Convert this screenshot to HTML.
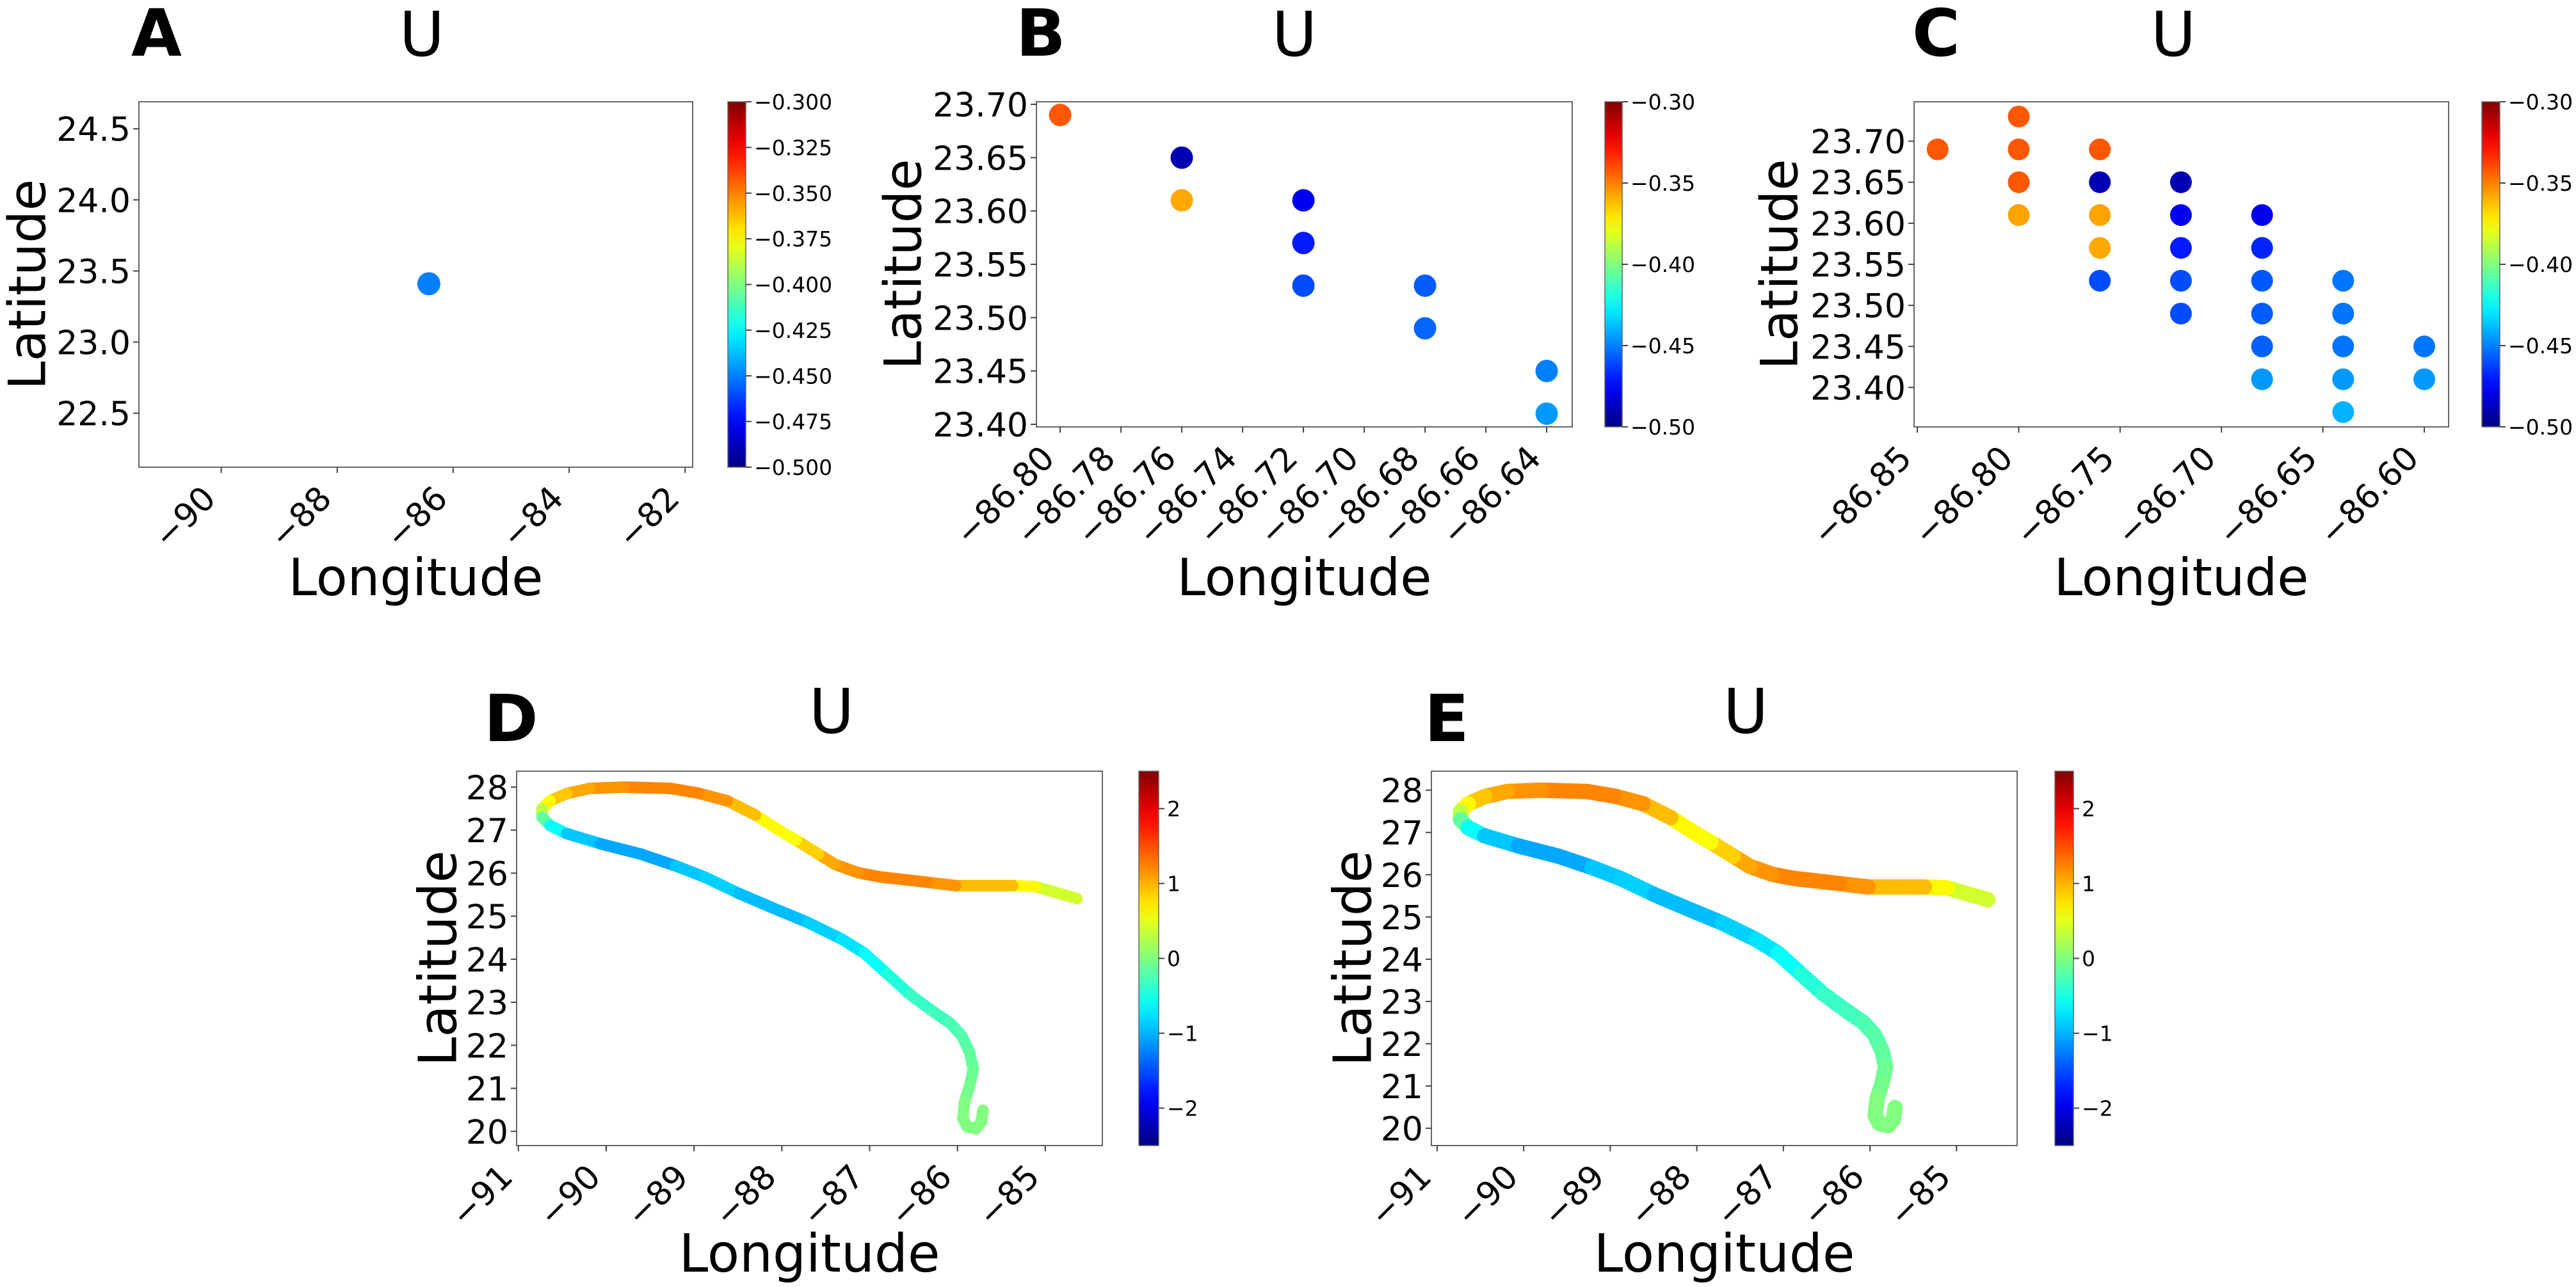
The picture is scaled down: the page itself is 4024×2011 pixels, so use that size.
<!DOCTYPE html>
<html><head><meta charset="utf-8"><style>
html,body{margin:0;padding:0;background:#fff}
svg{display:block;font-family:"DejaVu Sans","Liberation Sans",sans-serif}
</style></head><body>
<svg id="fig" width="4024" height="2011" viewBox="0 0 4024 2011" xmlns="http://www.w3.org/2000/svg">
<defs>
<linearGradient id="jetGrad" x1="0" y1="1" x2="0" y2="0"></linearGradient>
</defs>
</svg>
<script>
// ---- Panel A data ----
const aLon = [-86.42];
const aLat = [23.41];
const aVal = [-0.45];
const aXTicks = [-90,-88,-86,-84,-82];
const aYTicks = [22.5,23.0,23.5,24.0,24.5];
const aCbTicks = [-0.500,-0.475,-0.450,-0.425,-0.400,-0.375,-0.350,-0.325,-0.300];
// ---- Panel B data ----
const bLon = [-86.80,-86.76,-86.76,-86.72,-86.72,-86.72,-86.68,-86.68,-86.64,-86.64];
const bLat = [23.69,23.65,23.61,23.61,23.57,23.53,23.53,23.49,23.45,23.41];
const bVal = [-0.342,-0.49,-0.358,-0.478,-0.47,-0.46,-0.457,-0.455,-0.45,-0.445];
const bXTicks = [-86.80,-86.78,-86.76,-86.74,-86.72,-86.70,-86.68,-86.66,-86.64];
const bYTicks = [23.40,23.45,23.50,23.55,23.60,23.65,23.70];
const bcTicks = [-0.50,-0.45,-0.40,-0.35,-0.30];
// ---- Panel C data ----
const cLon = [-86.84,-86.80,-86.80,-86.80,-86.80,-86.76,-86.76,-86.76,-86.76,-86.76,-86.72,-86.72,-86.72,-86.72,-86.72,-86.68,-86.68,-86.68,-86.68,-86.68,-86.68,-86.64,-86.64,-86.64,-86.64,-86.64,-86.60,-86.60];
const cLat = [23.69,23.73,23.69,23.65,23.61,23.69,23.65,23.61,23.57,23.53,23.65,23.61,23.57,23.53,23.49,23.61,23.57,23.53,23.49,23.45,23.41,23.53,23.49,23.45,23.41,23.37,23.45,23.41];
const cVal = [-0.342,-0.342,-0.342,-0.342,-0.357,-0.342,-0.49,-0.357,-0.358,-0.46,-0.49,-0.478,-0.47,-0.46,-0.46,-0.478,-0.468,-0.458,-0.457,-0.456,-0.445,-0.452,-0.452,-0.452,-0.445,-0.44,-0.452,-0.445];
const cXTicks = [-86.85,-86.80,-86.75,-86.70,-86.65,-86.60];
const cYTicks = [23.40,23.45,23.50,23.55,23.60,23.65,23.70];
// ---- Panels D/E trajectory data ----
const trackLon = [-84.64,-85.11,-85.37,-86.02,-86.35,-86.87,-87.13,-87.39,-87.58,-87.84,-88.04,-88.30,-88.62,-88.95,-89.27,-89.80,-90.19,-90.45,-90.64,-90.73,-90.73,-90.64,-90.45,-90.06,-89.60,-89.21,-88.88,-88.49,-88.10,-87.71,-87.32,-87.06,-86.80,-86.54,-86.28,-86.08,-85.95,-85.86,-85.82,-85.86,-85.92,-85.94,-85.89,-85.79,-85.73,-85.71];
const trackLat = [25.41,25.69,25.71,25.71,25.79,25.91,26.01,26.20,26.44,26.77,27.01,27.35,27.68,27.86,27.97,28.00,27.97,27.85,27.68,27.49,27.30,27.11,26.92,26.68,26.44,26.17,25.91,25.53,25.19,24.86,24.47,24.14,23.66,23.18,22.79,22.51,22.22,21.83,21.45,21.07,20.68,20.30,20.11,20.06,20.21,20.49];
const trackVal = [0.3,0.5,0.8,1.1,1.2,1.25,1.2,1.1,1.0,0.7,0.5,0.8,1.1,1.2,1.25,1.2,1.1,1.0,0.8,0.5,0.1,-0.4,-0.8,-1.0,-1.1,-1.0,-0.8,-0.9,-1.0,-0.9,-0.8,-0.7,-0.5,-0.4,-0.3,-0.3,-0.2,-0.2,-0.1,-0.1,0,0,0,0,0,0];
const deXTicks = [-91,-90,-89,-88,-87,-86,-85];
const deYTicks = [20,21,22,23,24,25,26,27,28];
const deCbTicks = [-2,-1,0,1,2];

const NS='http://www.w3.org/2000/svg';
const svg=document.getElementById('fig');
function mk(tag,attrs,parent){const e=document.createElementNS(NS,tag);for(const k in attrs)e.setAttribute(k,attrs[k]);(parent||svg).appendChild(e);return e;}
function clamp(v){return Math.max(0,Math.min(1,v));}
function jet(t){t=clamp(t);const r=clamp(1.5-Math.abs(4*t-3)),g=clamp(1.5-Math.abs(4*t-2)),b=clamp(1.5-Math.abs(4*t-1));return `rgb(${Math.round(r*255)},${Math.round(g*255)},${Math.round(b*255)})`;}
const grad=document.getElementById('jetGrad');
for(let i=0;i<=20;i++){const s=mk('stop',{offset:(i/20),'stop-color':jet(i/20)},grad);}
function fmt(v,d){return (v<0?'\u2212':'')+Math.abs(v).toFixed(d);}

const panels=[
 {id:'a',letter:'A',lx:205,ly:87,ux:659,uy:87,box:[217,159,1082,730],xd:[-91.42,-81.87],yd:[22.12,24.69],cb:[1137,1165],cd:[-0.5,-0.3],
  xt:aXTicks,xdp:0,yt:aYTicks,ydp:1,ct:aCbTicks,cdp:3,latX:43,lonBase:930,lonSize:80,tickSize:52,cbSize:33},
 {id:'b',letter:'B',lx:1587,ly:87,ux:2022,uy:87,box:[1619,159,2456,667],xd:[-86.8078,-86.6316],yd:[23.3976,23.7024],cb:[2507,2534],cd:[-0.5,-0.3],
  xt:bXTicks,xdp:2,yt:bYTicks,ydp:2,ct:bcTicks,cdp:2,latX:1411,lonBase:930,lonSize:80,tickSize:52,cbSize:33},
 {id:'c',letter:'C',lx:2987,ly:87,ux:3395,uy:87,box:[2990,159,3825,667],xd:[-86.8516,-86.588],yd:[23.352,23.748],cb:[3877,3905],cd:[-0.5,-0.3],
  xt:cXTicks,xdp:2,yt:cYTicks,ydp:2,ct:bcTicks,cdp:2,latX:2780,lonBase:930,lonSize:80,tickSize:52,cbSize:33},
 {id:'d',letter:'D',lx:756,ly:1158,ux:1299,uy:1145,box:[807,1205,1722,1790],xd:[-91.02,-84.35],yd:[19.67,28.37],cb:[1779,1810],cd:[-2.5,2.5],
  xt:deXTicks,xdp:0,yt:deYTicks,ydp:0,ct:deCbTicks,cdp:0,latX:685,lonBase:1987,lonSize:82,tickSize:52,cbSize:33},
 {id:'e',letter:'E',lx:2225,ly:1158,ux:2727,uy:1145,box:[2236,1205,3151,1790],xd:[-91.066,-84.30],yd:[19.59,28.45],cb:[3210,3239],cd:[-2.5,2.5],
  xt:deXTicks,xdp:0,yt:deYTicks,ydp:0,ct:deCbTicks,cdp:0,latX:2114,lonBase:1987,lonSize:82,tickSize:52,cbSize:33}
];

panels.forEach(p=>{
  const [x0,y0,x1,y1]=p.box;
  const X=v=>x0+(v-p.xd[0])/(p.xd[1]-p.xd[0])*(x1-x0);
  const Y=v=>y1-(v-p.yd[0])/(p.yd[1]-p.yd[0])*(y1-y0);
  const C=v=>jet((v-p.cd[0])/(p.cd[1]-p.cd[0]));
  p.X=X;p.Y=Y;p.C=C;
  const g=mk('g',{});
  
  
  const L=mk('text',{x:p.lx,y:p.ly,'font-size':102,'font-weight':'bold','font-family':'"DejaVu Sans",sans-serif'},g);L.textContent=p.letter;
  
  
  const U=mk('text',{x:p.ux,y:p.uy,'font-size':96,'text-anchor':'middle'},g);U.textContent='U';
  
  
  const plot=mk('g',{},g);p.plot=plot;
  
  
  const fr=mk('rect',{x:x0,y:y0,width:x1-x0,height:y1-y0,fill:'none',stroke:'#666','stroke-width':2},g);
  
  
  p.xt.forEach(t=>{const x=X(t);
    const tk=mk('line',{x1:x,x2:x,y1:y1,y2:y1+9,stroke:'#444','stroke-width':2},g);
    
    
    const ex=x-6,ey=y1+52;
    const tl=mk('text',{x:ex,y:ey,'font-size':p.tickSize,'text-anchor':'end',transform:`rotate(-45 ${ex} ${ey})`},g);
    tl.textContent=fmt(t,p.xdp);
    
    
  });
  p.yt.forEach(t=>{const y=Y(t);
    const tk=mk('line',{x1:x0-9,x2:x0,y1:y,y2:y,stroke:'#444','stroke-width':2},g);
    
    
    const tl=mk('text',{x:x0-13,y:y+19,'font-size':p.tickSize,'text-anchor':'end'},g);
    tl.textContent=fmt(t,p.ydp);
    
    
  });
  const cy=(y0+y1)/2;
  const lat=mk('text',{x:p.latX,y:cy,'font-size':p.lonSize,'text-anchor':'middle','dominant-baseline':'central',transform:`rotate(-90 ${p.latX} ${cy})`},g);
  lat.textContent='Latitude';
  
  
  const lon=mk('text',{x:(x0+x1)/2,y:p.lonBase,'font-size':p.lonSize,'text-anchor':'middle'},g);
  lon.textContent='Longitude';
  
  
  const [cx0,cx1]=p.cb;
  const cbr=mk('rect',{x:cx0,y:y0,width:cx1-cx0,height:y1-y0,fill:'url(#jetGrad)',stroke:'#666','stroke-width':1.5},g);
  
  
  const CY=v=>y1-(v-p.cd[0])/(p.cd[1]-p.cd[0])*(y1-y0);
  p.ct.forEach(t=>{const y=CY(t);
    const tk=mk('line',{x1:cx1,x2:cx1+9,y1:y,y2:y,stroke:'#444','stroke-width':2},g);
    
    
    const tl=mk('text',{x:cx1+13,y:y+12,'font-size':p.cbSize},g);
    tl.textContent=fmt(t,p.cdp);
    
    
  });
});

function scatter(p,lons,lats,vals,r){
  lons.forEach((lo,i)=>{
    const c=mk('circle',{cx:p.X(lo),cy:p.Y(lats[i]),r:r,fill:p.C(vals[i])},p.plot);
    
    
  });
}
scatter(panels[0],aLon,aLat,aVal,18);
scatter(panels[1],bLon,bLat,bVal,17.5);
scatter(panels[2],cLon,cLat,cVal,17);

function track(p,w){
  for(let i=0;i<trackLon.length-1;i++){
    const s=mk('line',{x1:p.X(trackLon[i]),y1:p.Y(trackLat[i]),x2:p.X(trackLon[i+1]),y2:p.Y(trackLat[i+1]),stroke:p.C((trackVal[i]+trackVal[i+1])/2),'stroke-width':w,'stroke-linecap':'round'},p.plot);
    
    
  }
}
track(panels[3],18);
track(panels[4],24);
</script>
</body></html>
